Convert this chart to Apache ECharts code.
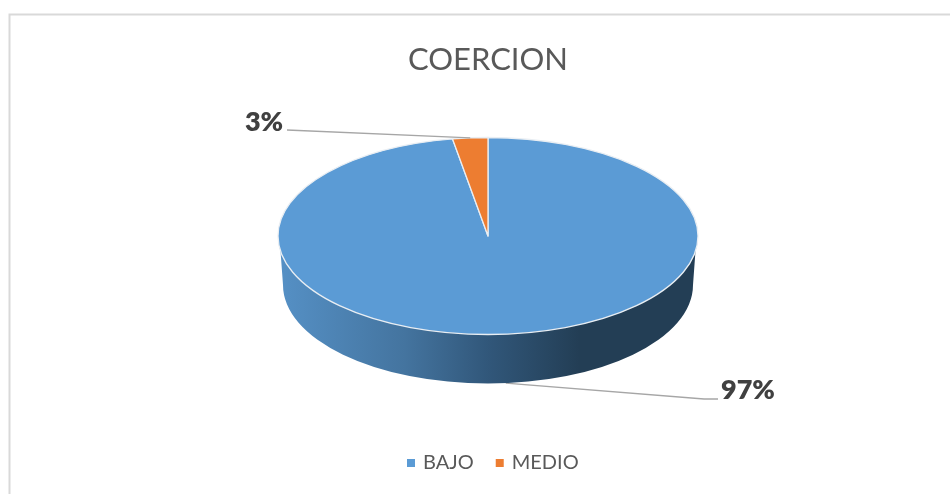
<!DOCTYPE html>
<html>
<head>
<meta charset="utf-8">
<script src="https://cdn.jsdelivr.net/npm/echarts@6/dist/echarts.min.js"></script>
<style>
  html, body { margin: 0; padding: 0; background: #fff; }
  #main { width: 950px; height: 494px; }
</style>
</head>
<body>
<div id="main"></div>
<script>
const categories = ['BAJO', 'MEDIO']
const values = [97.3, 2.7]
const colors = ['#5b9bd5', '#ed7d31']

// ellipse of the top face and height of the side wall
const cx = 488
const cy = 236
const rx = 210
const ry = 98.5
const depth = 49
const fontName = 'Lato, "Open Sans", sans-serif'

const total = values.reduce((a, b) => a + b, 0)

// angle in radians, clockwise from 12 o'clock, projected on the ellipse
function pointAt(angle) {
  return [cx + rx * Math.sin(angle), cy - ry * Math.cos(angle)]
}

function wallItem() {
  const bottomRx = rx - 5
  const d = 'M' + (cx - rx + 2) + ' ' + (cy + 8)
    + ' L' + (cx - bottomRx) + ' ' + (cy + depth)
    + ' A' + bottomRx + ' ' + ry + ' 0 0 0 ' + (cx + bottomRx) + ' ' + (cy + depth)
    + ' L' + (cx + rx - 2) + ' ' + (cy + 8) + ' Z'
  return {
    type: 'path',
    shape: { pathData: d },
    style: {
      fill: new echarts.graphic.LinearGradient(0, 0, 1, 0, [
        { offset: 0, color: '#5590c5' },
        { offset: 0.3, color: '#44749f' },
        { offset: 0.5, color: '#31577a' },
        { offset: 0.72, color: '#233e55' },
        { offset: 1, color: '#233e55' },
      ]),
    },
  }
}

function sliceItem(start, end, color) {
  const p0 = pointAt(start)
  const p1 = pointAt(end)
  const large = end - start > Math.PI ? 1 : 0
  const d = 'M' + cx + ' ' + cy + ' L' + p0[0] + ' ' + p0[1]
    + ' A' + rx + ' ' + ry + ' 0 ' + large + ' 1 ' + p1[0] + ' ' + p1[1] + ' Z'
  return {
    type: 'path',
    shape: { pathData: d },
    style: { fill: color, stroke: '#e9eef3', lineWidth: 1.3, lineJoin: 'round' },
  }
}

function leaderItem(points) {
  return {
    type: 'polyline',
    shape: { points: points },
    style: { fill: 'none', stroke: '#a6a6a6', lineWidth: 1.3 },
  }
}

function labelItem(value, x, y) {
  return {
    type: 'text',
    style: {
      text: Math.round(value / total * 100) + '%',
      x: x,
      y: y,
      align: 'center',
      verticalAlign: 'middle',
      fill: '#404040',
      font: '800 27px ' + fontName,
    },
  }
}

const sliceSeries = categories.map((name, i) => ({
  name: name,
  type: 'custom',
  coordinateSystem: 'none',
  itemStyle: { color: colors[i] },
  data: [[values[i]]],
  animation: false,
  silent: true,
  z: i + 2,
  renderItem: (params, api) => {
    const value = api.value(0)
    // slices go clockwise from 12 o'clock, in the order of the data
    const before = values.slice(0, i).reduce((a, b) => a + b, 0)
    const start = before / total * Math.PI * 2
    const end = start + value / total * Math.PI * 2
    const mid = pointAt((start + end) / 2)
    const children = []
    if (i === 0) {
      // the big slice's label hangs from the wall
      children.push(leaderItem([[mid[0], mid[1] + depth], [704, 399], [718, 399]]))
      children.push(wallItem())
      children.push(sliceItem(start, end, colors[i]))
      children.push(labelItem(value, 748, 390))
    } else {
      children.push(sliceItem(start, end, colors[i]))
      children.push(leaderItem([[287, 130], [mid[0], mid[1]]]))
      children.push(labelItem(value, 264, 122))
    }
    return { type: 'group', children: children }
  },
}))

const myChart = echarts.init(document.getElementById('main'))

myChart.setOption({
  backgroundColor: '#fff',
  animation: false,
  title: {
    text: 'COERCION',
    left: 483,
    textAlign: 'center',
    top: 39,
    textStyle: { color: '#595959', fontSize: 31, fontWeight: 'normal', fontFamily: fontName },
  },
  legend: {
    data: categories,
    left: 402,
    top: 448,
    icon: 'rect',
    itemWidth: 8,
    itemHeight: 8,
    itemGap: 22,
    textStyle: { color: '#595959', fontSize: 20, fontFamily: fontName, padding: [0, 0, 0, 3] },
  },
  graphic: [
    {
      type: 'rect',
      silent: true,
      shape: { x: 9.5, y: 14.5, width: 1200, height: 800 },
      style: { fill: 'none', stroke: '#d9d9d9', lineWidth: 2 },
    },
  ],
  series: sliceSeries,
})
</script>
</body>
</html>
